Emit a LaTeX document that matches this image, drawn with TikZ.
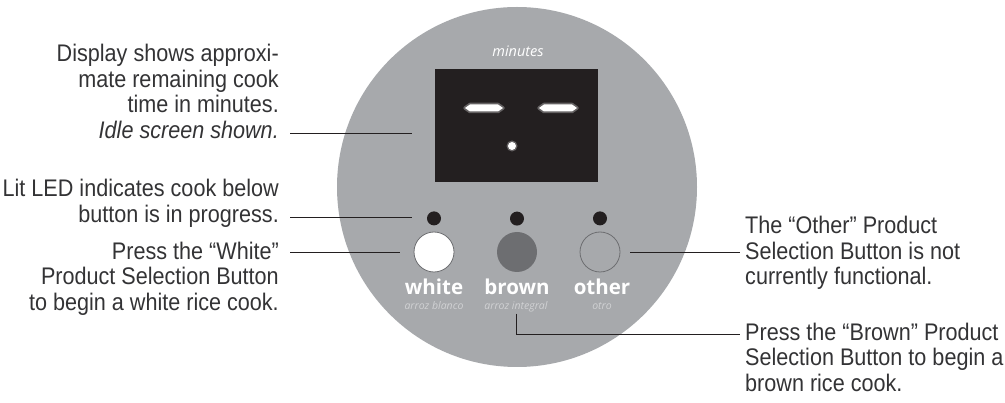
\documentclass[tikz,border=0pt]{standalone}
\usepackage{fontspec}
\setmainfont[FakeStretch=0.9]{Liberation Sans}
\newfontfamily\panelfont{Open Sans}
\usetikzlibrary{positioning}
\definecolor{panelgray}{HTML}{A7A9AC}
\definecolor{screenblack}{HTML}{231F20}
\definecolor{btndark}{HTML}{6D6E71}
\definecolor{subgray}{HTML}{D1D2D4}
\definecolor{inktext}{HTML}{333335}
\tikzset{
  lbl/.style={align=right, inner sep=0pt, text=inktext, font=\fontsize{24}{25.5}\selectfont},
  lblr/.style={lbl, align=left},
  leader/.style={draw=screenblack, line width=0.9pt},
  led/.style={circle, fill=screenblack, minimum size=14pt, inner sep=0pt},
  btn/.style={circle, minimum size=40pt, inner sep=0pt},
  btnname/.style={text=white, inner sep=0pt, font=\panelfont\bfseries\fontsize{20.5}{20.5}\selectfont},
  btnsub/.style={text=subgray, inner sep=1pt, font=\panelfont\itshape\fontsize{10.5}{10.5}\selectfont},
}
\begin{document}
\begin{tikzpicture}[x=1pt, y=-1pt]
    \useasboundingbox (0,0) rectangle (1005,403);
    % control panel
    \node[circle, fill=panelgray, minimum size=360pt, inner sep=0pt] (panel) at (517,187) {};
    \node[text=white, font=\panelfont\itshape\fontsize{14.5}{14.5}\selectfont, anchor=base] (unit) at (518,57) {minutes};
    \node[fill=screenblack, minimum width=163pt, minimum height=113pt, inner sep=0pt] (screen) at (516.5,125.5) {};
    \foreach \sx in {465,539} {
        \draw[white!30!screenblack, line width=3.5pt, line join=round] (\sx,108) -- ++(5,-3.5) -- ++(28,0) -- ++(5,3.5) -- ++(-5,3.5) -- ++(-28,0) -- cycle;
        \fill[white] (\sx,108) -- ++(5,-3.5) -- ++(28,0) -- ++(5,3.5) -- ++(-5,3.5) -- ++(-28,0) -- cycle;
    }
    \fill[white!30!screenblack] (512,146) circle (5.5);
    \fill[white] (512,146) circle (4);

    \node[btn, fill=white, draw=btndark, line width=0.8pt] (bwhite) at (434,252) {};
    \node[btn, fill=btndark] (bbrown) at (517,252) {};
    \node[btn, fill=panelgray, draw=btndark, line width=0.8pt] (bother) at (600,252) {};
    \foreach \b in {bwhite, bbrown, bother}
        \node[led, above=6pt of \b] (led-\b) {};

    \node[btnname, anchor=base] (nwhite) at (434,295) {white};
    \node[btnname, anchor=base] (nbrown) at (517,295) {brown};
    \node[btnname, anchor=base] (nother) at (602,295) {other};
    \node[btnsub, anchor=base] (swhite) at (434,310) {arroz blanco};
    \node[btnsub, anchor=base] (sbrown) at (516,310) {arroz integral};
    \node[btnsub, anchor=base] (sother) at (602,310) {otro};

    % callouts
    \node[lbl, anchor=north east] (disptxt) at (279,44) {Display shows approxi-\\mate remaining cook\\time in minutes.\\\textit{Idle screen shown.}};
    \node[lbl, anchor=north east] (ledtxt) at (279,179) {Lit LED indicates cook below\\button is in progress.};
    \node[lbl, anchor=north east] (whitetxt) at (279,241.5) {Press the “White”\\Product Selection Button\\to begin a white rice cook.};
    \node[lblr, anchor=north west] (othertxt) at (745,216) {The “Other” Product\\Selection Button is not\\currently functional.};
    \node[lblr, anchor=north west] (browntxt) at (745,322.5) {Press the “Brown” Product\\Selection Button to begin a\\brown rice cook.};

    \coordinate (dispL) at (290,133);
    \coordinate (ledL) at (290,217);
    \coordinate (whiteL) at (290,252);
    \coordinate (otherR) at (740,252);
    \coordinate (brownR) at (740,334);
    \draw[leader, shorten >=23pt] (dispL) -- (dispL -| screen.west);
    \draw[leader, shorten >=15pt] (ledL) -- (ledL -| led-bwhite.west);
    \draw[leader, shorten >=14pt] (whiteL) -- (bwhite.west);
    \draw[leader, shorten <=10pt] (bother.east) -- (otherR);
    \draw[leader] (sbrown.south) |- (brownR);
\end{tikzpicture}
\end{document}
